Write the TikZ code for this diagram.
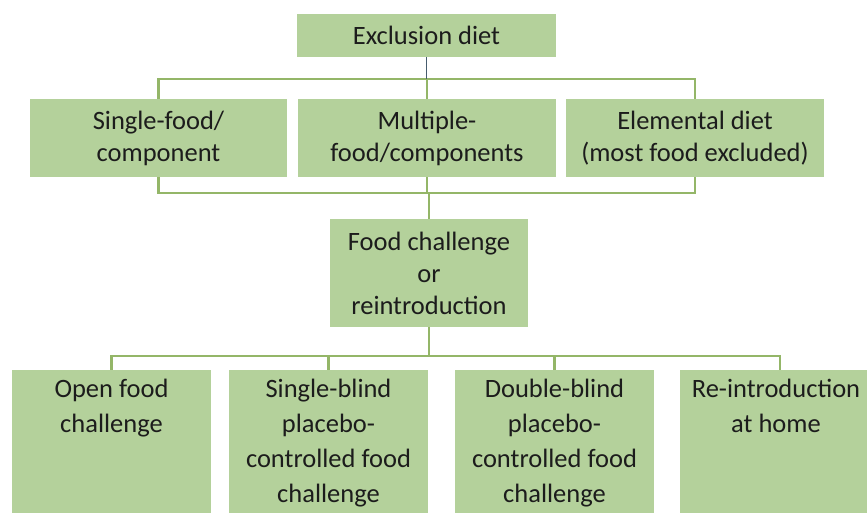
\documentclass[tikz,border=0pt]{standalone}
\usepackage{fontspec}
\setmainfont{Carlito}
\definecolor{boxgreen}{RGB}{180,209,155}
\definecolor{linegreen}{RGB}{148,182,104}
\definecolor{darkline}{RGB}{70,92,110}
\definecolor{txtcol}{RGB}{28,28,28}
\tikzset{
  gbox/.style={fill=boxgreen, draw=none, inner sep=0pt, text=txtcol, align=center,
    font=\fontsize{26.5}{32}\selectfont},
  btext/.style={inner sep=0pt, text=txtcol, align=center, anchor=north,
    font=\fontsize{26.5}{35}\selectfont},
  conn/.style={draw=linegreen, line width=2.2pt},
  darkconn/.style={draw=darkline, line width=1.8pt}
}
\begin{document}
\begin{tikzpicture}[x=1pt,y=-1pt]
\clip (0,0) rectangle (867,513);
\fill[white] (0,0) rectangle (867,513);
% top
\node[gbox, minimum width=259pt, minimum height=43pt] (ex) at (426.5,35.5) {Exclusion diet};
% row 2
\node[gbox, minimum width=257pt, minimum height=78pt] (r1) at (158.5,138) {Single-food/\\component};
\node[gbox, minimum width=258pt, minimum height=78pt] (r2) at (427,138) {Multiple-\\food/components};
\node[gbox, minimum width=258pt, minimum height=78pt] (r3) at (695,138) {Elemental diet\\(most food excluded)};
% food challenge
\node[gbox, minimum width=198pt, minimum height=108pt] (fc) at (429,273) {Food challenge\\or\\reintroduction};
% bottom boxes
\node[gbox, minimum width=199pt, minimum height=150pt] (b1) at (111.5,445) {};
\node[gbox, minimum width=199pt, minimum height=150pt] (b2) at (328.5,445) {};
\node[gbox, minimum width=199pt, minimum height=150pt] (b3) at (554.5,445) {};
\node[gbox, minimum width=201pt, minimum height=150pt] (b4) at (780,445) {};
\node[btext] (t1) at (111.5,379) {Open food\\challenge};
\node[btext] (t2) at (328.5,379) {Single-blind\\placebo-\\controlled food\\challenge};
\node[btext] (t3) at (554.5,379) {Double-blind\\placebo-\\controlled food\\challenge};
\node[btext] (t4) at (776,379) {Re-introduction\\at home};
% connectors: top
\coordinate (bar1) at (427,79);
\draw[conn] (r1.north) |- (bar1) -| (r3.north);
\draw[conn] (bar1) -- (r2.north);
\draw[darkconn] (ex.south) -- (ex.south |- bar1);
% connectors: row 2 to food challenge
\coordinate (bar2) at (429,193);
\draw[conn] (r1.south) |- (bar2) -| (r3.south);
\draw[conn] (r2.south) -- (r2.south |- bar2);
\draw[conn] (bar2) -- (fc.north);
% connectors: food challenge to bottom
\coordinate (bar3) at (429,356);
\draw[conn] (b1.north) |- (bar3) -| (b4.north);
\draw[conn] (fc.south) -- (bar3);
\draw[conn] (b2.north) -- (b2.north |- bar3);
\draw[conn] (b3.north) -- (b3.north |- bar3);
\end{tikzpicture}
\end{document}
